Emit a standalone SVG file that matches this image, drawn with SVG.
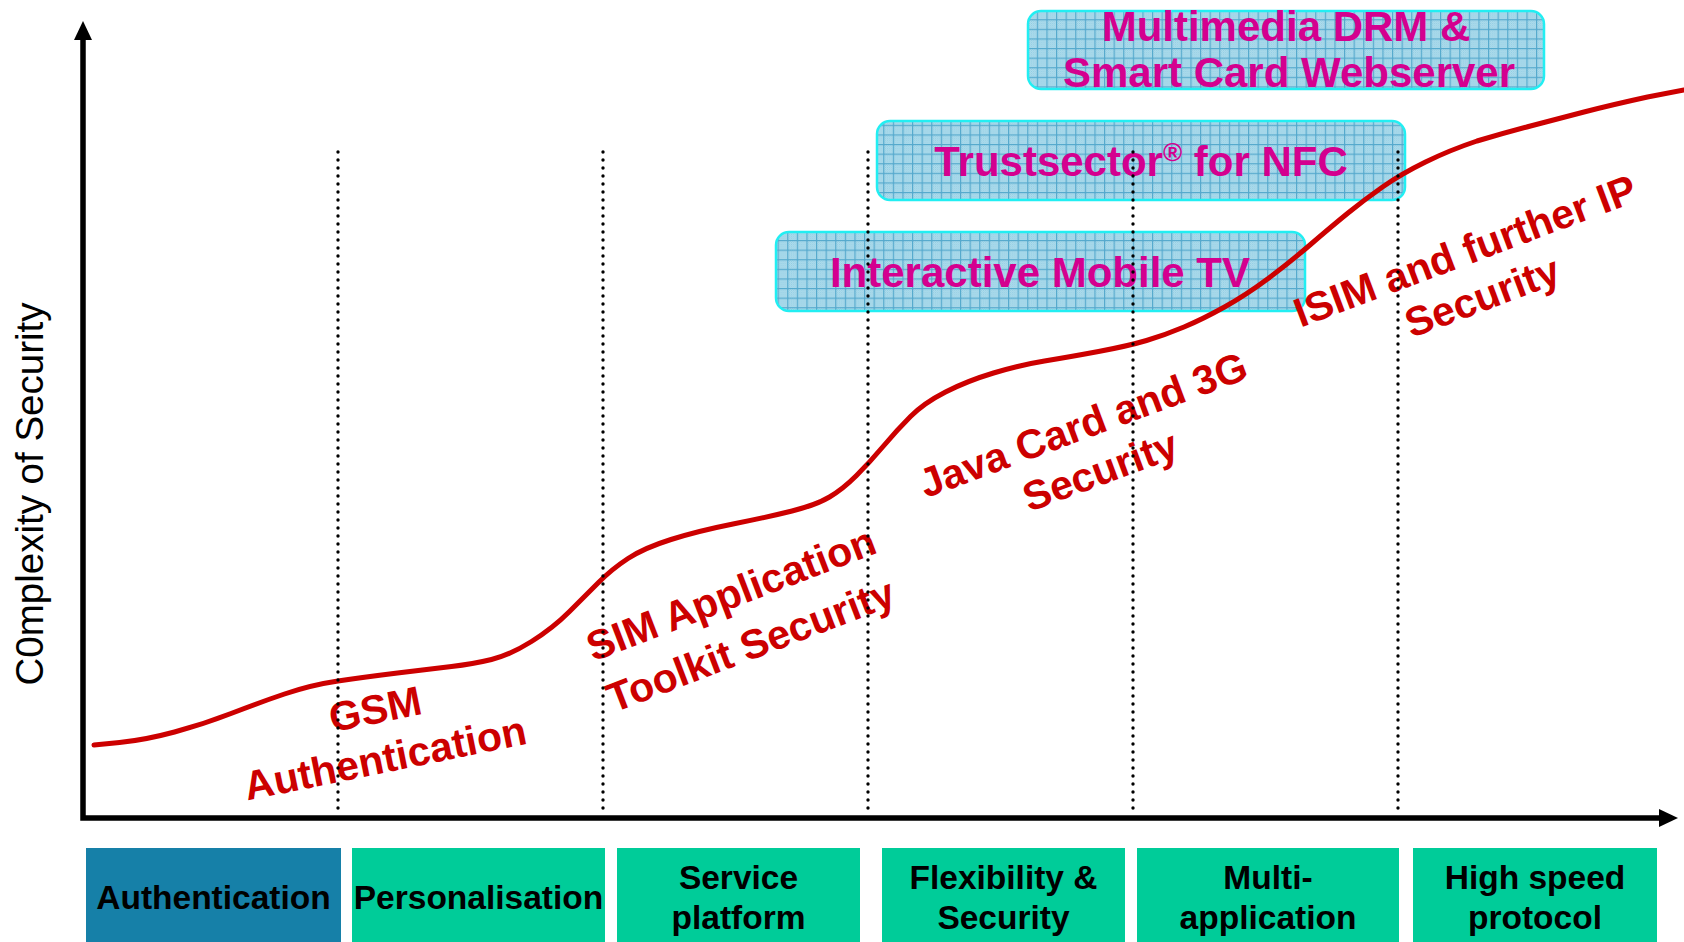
<svg xmlns="http://www.w3.org/2000/svg" width="1684" height="942" viewBox="0 0 1684 942">
<style>
.phase{stroke:none}
.ph-txt{font-family:"Liberation Sans",Arial,sans-serif;font-weight:bold;font-size:33.5px;fill:#000;text-anchor:middle}
.call-box{fill:url(#grid);stroke:#22eef2;stroke-width:2.5}
.call-txt{font-family:"Liberation Sans",Arial,sans-serif;font-weight:bold;font-size:42px;fill:#d4008f;text-anchor:middle}
.red-txt{font-family:"Liberation Sans",Arial,sans-serif;font-weight:bold;font-size:41px;fill:#cc0000;text-anchor:middle}
.axis{stroke:#000;stroke-width:5.5;fill:none}
.dots{stroke:#000;stroke-width:3.4;stroke-linecap:round;stroke-dasharray:0 8;fill:none}
.curve{stroke:#cc0000;stroke-width:5;fill:none;stroke-linecap:round;stroke-linejoin:round}
</style>
<defs>
<pattern id="dither" width="2" height="2" patternUnits="userSpaceOnUse">
<rect width="2" height="2" fill="#bfe3f0"/>
<rect width="1" height="1" fill="#8ccbe2"/>
<rect x="1" y="1" width="1" height="1" fill="#8ccbe2"/>
</pattern>
<pattern id="grid" width="9.6" height="9.6" patternUnits="userSpaceOnUse">
<rect width="9.6" height="9.6" fill="url(#dither)"/>
<path d="M0 0.6H9.6M0.6 0V9.6" stroke="#55a9cd" stroke-width="1.2"/>
</pattern>
</defs>
<rect width="1684" height="942" fill="#fff"/>

<g id="axis-label">
<text transform="translate(43,494) rotate(-90)" font-family="Liberation Sans, Arial, sans-serif" font-size="38.5" text-anchor="middle" fill="#000">C0mplexity of Security</text>
</g>

<g id="phase-authentication">
<rect class="phase" x="86" y="848" width="255" height="94" fill="#1680a8"/>
<text class="ph-txt" x="213.5" y="909">Authentication</text>
</g>
<g id="phase-personalisation">
<rect class="phase" x="352" y="848" width="253" height="94" fill="#00cc99"/>
<text class="ph-txt" x="478.5" y="909">Personalisation</text>
</g>
<g id="phase-service">
<rect class="phase" x="617" y="848" width="243" height="94" fill="#00cc99"/>
<text class="ph-txt" x="738.5" y="889">Service</text>
<text class="ph-txt" x="738.5" y="929">platform</text>
</g>
<g id="phase-flexibility">
<rect class="phase" x="882" y="848" width="243" height="94" fill="#00cc99"/>
<text class="ph-txt" x="1003.5" y="889">Flexibility &amp;</text>
<text class="ph-txt" x="1003.5" y="929">Security</text>
</g>
<g id="phase-multi">
<rect class="phase" x="1137" y="848" width="262" height="94" fill="#00cc99"/>
<text class="ph-txt" x="1268" y="889">Multi-</text>
<text class="ph-txt" x="1268" y="929">application</text>
</g>
<g id="phase-highspeed">
<rect class="phase" x="1413" y="848" width="244" height="94" fill="#00cc99"/>
<text class="ph-txt" x="1535" y="889">High speed</text>
<text class="ph-txt" x="1535" y="929">protocol</text>
</g>

<g id="callout-multimedia">
<rect class="call-box" x="1028" y="11" width="516" height="78" rx="13"/>
<text class="call-txt" x="1286" y="41">Multimedia DRM &amp;</text>
<text class="call-txt" x="1289" y="87">Smart Card Webserver</text>
</g>
<g id="callout-trustsector">
<rect class="call-box" x="877" y="121" width="528" height="79" rx="13"/>
<text class="call-txt" x="1141" y="176">Trustsector<tspan font-size="26" dy="-15">®</tspan><tspan dy="15"> for NFC</tspan></text>
</g>
<g id="callout-mobiletv">
<rect class="call-box" x="776" y="232" width="529" height="79" rx="13"/>
<text class="call-txt" x="1040" y="287">Interactive Mobile TV</text>
</g>

<g id="label-gsm">
<text class="red-txt" transform="translate(378,723) rotate(-11.5)"><tspan x="0" y="0">GSM</tspan><tspan x="0" y="50">Authentication</tspan></text>
</g>
<g id="label-sim">
<text class="red-txt" transform="translate(736,607) rotate(-21)"><tspan x="0" y="0">SIM Application</tspan><tspan x="0" y="55">Toolkit Security</tspan></text>
</g>
<g id="label-java">
<text class="red-txt" transform="translate(1088,438) rotate(-20.4)"><tspan x="0" y="0">Java Card and 3G</tspan><tspan x="0" y="49">Security</tspan></text>
</g>
<g id="label-isim">
<text class="red-txt" transform="translate(1470,264) rotate(-20.6)"><tspan x="0" y="0">ISIM and further IP</tspan><tspan x="0" y="49">Security</tspan></text>
</g>

<g id="connectors">
<path class="curve" d="M94,745 L119.5,742.5 Q145,740 174.5,732 Q204,724 231,713.5 Q258,703 284.5,694 Q311,685 338,681 Q365,677 397.5,673 Q430,669 451.5,666.5 Q473,664 491.5,659.5 Q510,655 531.5,641.5 Q553,628 569,612 Q585,596 598.5,582.5 Q612,569 628,558.5 Q644,548 671,539.5 Q698,531 733,524 Q768,517 792,511 Q816,505 829.5,497 Q843,489 856.5,475.5 Q870,462 883.5,446 Q897,430 910.5,416.5 Q924,403 945.5,392 Q967,381 993.5,373 Q1020,365 1044.5,361 Q1069,357 1098.5,351.5 Q1128,346 1146.5,340.5 Q1165,335 1184,327 Q1203,319 1224.5,307 Q1246,295 1267.5,279 Q1289,263 1310.5,244.5 Q1332,226 1348,213 Q1364,200 1382.5,187 Q1401,174 1425.5,162 Q1450,150 1477,141 Q1504,133 1530.5,126 Q1557,119 1584,112 Q1611,105 1647.5,97 L1684,90"/>
<g id="phase-dividers">
<path class="dots" d="M338,152V812"/>
<path class="dots" d="M603,152V812"/>
<path class="dots" d="M868,152V812"/>
<path class="dots" d="M1133,152V812"/>
<path class="dots" d="M1398,152V812"/>
</g>
<g id="axes">
<path class="axis" d="M83,38V818H1661"/>
<polygon points="83,21 74,40 92,40" fill="#000"/>
<polygon points="1678,818 1659,809 1659,827" fill="#000"/>
</g>
</g>
</svg>
